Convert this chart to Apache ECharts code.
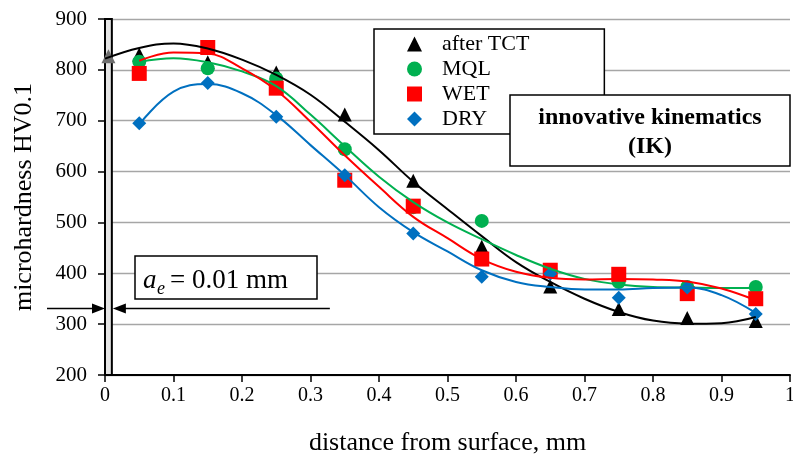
<!DOCTYPE html>
<html>
<head>
<meta charset="utf-8">
<script src="https://cdn.jsdelivr.net/npm/echarts@6/dist/echarts.min.js"></script>
<style>html,body{margin:0;padding:0;background:#fff}#c{width:793px;height:458px}</style>
</head>
<body>
<div id="c"></div>
<script>
// ---- data ----
const seriesNames = ['after TCT', 'MQL', 'WET', 'DRY'];
const tctX = [0.005, 0.05, 0.15, 0.25, 0.35, 0.45, 0.55, 0.65, 0.75, 0.85, 0.95];
const ptX = [0.05, 0.15, 0.25, 0.35, 0.45, 0.55, 0.65, 0.75, 0.85, 0.95];
const afterTCT = [827, 830, 815, 795, 712, 582, 452, 374, 330, 312, 306];
const mql = [816, 803, 783, 644, 530, 503, 406, 383, 373, 373];
const wet = [793, 844, 764, 583, 532, 428, 406, 398, 360, 350];
const dry = [695, 774, 708, 593, 478, 393, 399, 352, 372, 320];
// trend curves
const tctCurveX = [0, 0.05, 0.1, 0.15, 0.2, 0.25, 0.3, 0.35, 0.4, 0.45, 0.5, 0.55, 0.6, 0.65, 0.7, 0.75, 0.8, 0.85, 0.9, 0.95];
const curveX = [0.05, 0.1, 0.15, 0.2, 0.25, 0.3, 0.35, 0.4, 0.45, 0.5, 0.55, 0.6, 0.65, 0.7, 0.75, 0.8, 0.85, 0.9, 0.95];
const tctCurve = [822, 843, 852, 842, 820, 790, 751, 698, 642, 580, 526, 473, 422, 383, 350, 324, 307, 301, 302, 314];
const mqlCurve = [816, 823, 815, 797, 768, 712, 650, 590, 540, 500, 467, 436, 409, 389, 378, 373, 372, 371, 371];
const wetCurve = [818, 834, 832, 803, 760, 698, 632, 570, 511, 469, 428, 403, 391, 388, 389, 388, 384, 370, 347];
const dryCurve = [693, 757, 772, 754, 711, 652, 593, 530, 481, 443, 406, 383, 373, 368, 368, 371, 372, 357, 322];
const xTicks = ['0', '0.1', '0.2', '0.3', '0.4', '0.5', '0.6', '0.7', '0.8', '0.9', '1'];
const bandRange = [0, 0.01];
const aeLevel = 331;

const F = '"Liberation Serif","Times New Roman",serif';
const colors = ['#000000', '#00b050', '#ff0000', '#0070c0'];
const symbols = ['triangle', 'circle', 'rect', 'diamond'];
const symSizes = [14, 14, 15, 14];

const pair = (xs, ys) => ys.map((y, i) => [xs[i], y]);

const ptData = [
  pair(tctX, afterTCT).map((p, i) => i === 0 ? {value: p, itemStyle: {color: '#6e6e6e'}} : p),
  pair(ptX, mql), pair(ptX, wet), pair(ptX, dry)
];
const curves = [pair(tctCurveX, tctCurve), pair(curveX, mqlCurve), pair(curveX, wetCurve), pair(curveX, dryCurve)];

const series = [];
seriesNames.forEach((n, i) => {
  series.push({
    name: n, type: 'scatter', data: ptData[i], symbol: symbols[i], symbolSize: symSizes[i],
    itemStyle: {color: colors[i], opacity: 1}, z: 3
  });
});
seriesNames.forEach((n, i) => {
  const s = {
    name: n + ' trend', type: 'line', data: curves[i], smooth: 0.4, showSymbol: false,
    lineStyle: {color: colors[i], width: 2}, itemStyle: {color: colors[i]}, z: 4, silent: true
  };
  if (i === 0) {
    s.markArea = {
      silent: true, z: 1,
      itemStyle: {color: '#e4e4e4', borderColor: '#000', borderWidth: 2},
      data: [[{xAxis: bandRange[0], yAxis: 200}, {xAxis: bandRange[1], yAxis: 900}]]
    };
  }
  series.push(s);
});

const chart = echarts.init(document.getElementById('c'));
chart.setOption({
  animation: false,
  textStyle: {fontFamily: F},
  grid: {left: 105, right: 3, top: 19, bottom: 83, containLabel: false, outerBoundsMode: 'none'},
  legend: {
    data: seriesNames, orient: 'vertical', left: 374, top: 29,
    itemWidth: 15, itemHeight: 15, itemGap: 3,
    padding: [4, 75, 4, 33],
    borderColor: '#000', borderWidth: 1.5, backgroundColor: '#fff',
    textStyle: {fontSize: 22, fontFamily: F, color: '#000', lineHeight: 22, padding: [0, 0, 0, 15]},
    selectedMode: false
  },
  xAxis: {
    type: 'value', min: 0, max: 1, interval: 0.1,
    axisLine: {show: true, lineStyle: {color: '#000', width: 2}},
    axisTick: {show: true, length: 7, lineStyle: {color: '#000', width: 1.5}},
    axisLabel: {color: '#000', fontSize: 20, fontFamily: F, margin: 11,
      formatter: v => xTicks[Math.round(v * 10)]},
    splitLine: {show: false},
    name: 'distance from surface, mm', nameLocation: 'middle', nameGap: 55,
    nameTextStyle: {fontSize: 26, fontFamily: F, color: '#000'}
  },
  yAxis: {
    type: 'value', min: 200, max: 900, interval: 100,
    axisLine: {show: true, lineStyle: {color: '#000', width: 2}},
    axisTick: {show: true, length: 7, lineStyle: {color: '#000', width: 1.5}},
    axisLabel: {color: '#000', fontSize: 21, fontFamily: F, margin: 18},
    splitLine: {show: true, lineStyle: {color: '#a6a6a6', width: 1.3}},
    name: 'microhardness HV0.1', nameLocation: 'middle', nameRotate: 90, nameGap: 68,
    nameTextStyle: {fontSize: 26, fontFamily: F, color: '#000'}
  },
  series: series
});

// annotations
const y = chart.convertToPixel({yAxisIndex: 0}, aeLevel);
const x0 = chart.convertToPixel({xAxisIndex: 0}, bandRange[0]);
const x1 = chart.convertToPixel({xAxisIndex: 0}, bandRange[1]);
chart.setOption({
  graphic: [
    {type: 'line', z: 50, shape: {x1: x0 - 58, y1: y, x2: x0 - 8, y2: y}, style: {stroke: '#000', lineWidth: 1.5}},
    {type: 'polygon', z: 50, shape: {points: [[x0, y], [x0 - 13, y - 5], [x0 - 13, y + 5]]}, style: {fill: '#000'}},
    {type: 'line', z: 50, shape: {x1: x1 + 8, y1: y, x2: x1 + 218, y2: y}, style: {stroke: '#000', lineWidth: 1.5}},
    {type: 'polygon', z: 50, shape: {points: [[x1 + 1, y], [x1 + 14, y - 5], [x1 + 14, y + 5]]}, style: {fill: '#000'}},
    {type: 'rect', z: 50, shape: {x: 135, y: 256, width: 182, height: 43}, style: {fill: '#fff', stroke: '#000', lineWidth: 1.5}},
    {type: 'text', z: 51, x: 143, y: 281, style: {text: 'a', font: 'italic 27px ' + F, fill: '#000', verticalAlign: 'middle'}},
    {type: 'text', z: 51, x: 157, y: 289, style: {text: 'e', font: 'italic 18px ' + F, fill: '#000', verticalAlign: 'middle'}},
    {type: 'text', z: 51, x: 170, y: 281, style: {text: '= 0.01 mm', font: '27px ' + F, fill: '#000', verticalAlign: 'middle'}},
    {type: 'rect', z: 60, shape: {x: 510, y: 95, width: 280, height: 71}, style: {fill: '#fff', stroke: '#000', lineWidth: 1.5}},
    {type: 'text', z: 61, x: 650, y: 118, style: {text: 'innovative kinematics', font: 'bold 24px ' + F, fill: '#000', align: 'center', verticalAlign: 'middle'}},
    {type: 'text', z: 61, x: 650, y: 147, style: {text: '(IK)', font: 'bold 24px ' + F, fill: '#000', align: 'center', verticalAlign: 'middle'}}
  ]
});
</script>
</body>
</html>
